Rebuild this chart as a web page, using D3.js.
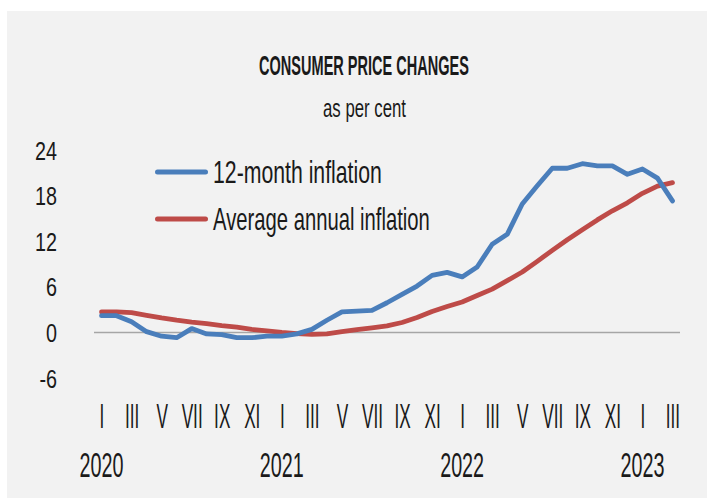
<!DOCTYPE html>
<html>
<head>
<meta charset="utf-8">
<script src="https://cdn.jsdelivr.net/npm/d3@7"></script>
<style>
  html, body { margin: 0; padding: 0; background: #ffffff; }
  svg { display: block; }
  text { font-family: "Liberation Sans", Arial, sans-serif; fill: #1a1a1a; }
</style>
</head>
<body>
<svg id="chart" width="707" height="498"></svg>
<script>
// ---- data ----
const title = "CONSUMER PRICE CHANGES";
const subtitle = "as per cent";
const romanMonths = ["I","II","III","IV","V","VI","VII","VIII","IX","X","XI","XII"];
const years = ["2020","2021","2022","2023"];
const seriesNames = ["12-month inflation", "Average annual inflation"];
const yTicks = [-6, 0, 6, 12, 18, 24];
// monthly, Jan 2020 .. Mar 2023
const inflation12m = [2.2,2.2,1.4,0.1,-0.5,-0.7,0.5,-0.2,-0.3,-0.7,-0.7,-0.5,
  -0.5,-0.2,0.4,1.6,2.7,2.8,2.9,3.9,5.0,6.1,7.5,7.9,
  7.3,8.6,11.6,12.9,16.9,19.3,21.6,21.6,22.2,21.9,21.9,20.8,
  21.5,20.3,17.3];
const inflationAvg = [2.7,2.7,2.6,2.25,1.9,1.6,1.35,1.15,0.9,0.7,0.4,0.2,
  0.0,-0.15,-0.25,-0.2,0.1,0.35,0.6,0.85,1.3,1.95,2.75,3.4,
  4.0,4.85,5.7,6.8,7.95,9.35,10.8,12.2,13.5,14.8,16.0,17.05,
  18.3,19.25,19.7];

const categories = [];
years.forEach(y => romanMonths.forEach((m, mi) => categories.push({year: y, month: m, mi})));
categories.length = inflation12m.length;

// ---- layout ----
const svg = d3.select("#chart");
const colors = ["#4a7ebb", "#be4b48"];

svg.append("rect").attr("x", 7).attr("y", 11).attr("width", 700).attr("height", 487).attr("fill", "#f2f2f2");

const x = d3.scalePoint().domain(d3.range(categories.length)).range([94, 680]).padding(0.5);
const y = d3.scaleLinear().domain([-6, 24]).range([378, 150]);

function measure(str, size, weight) {
  const t = svg.append("text").attr("font-size", size).attr("font-weight", weight || "normal").text(str);
  const w = t.node().getComputedTextLength();
  t.remove();
  return w;
}
// condensed text placed via transform so that its box really is narrow
function placeText(parent, str, px, py, size, anchor, k, weight) {
  return parent.append("text")
    .attr("transform", `translate(${px},${py}) scale(${k},1)`)
    .attr("text-anchor", anchor).attr("font-size", size)
    .attr("font-weight", weight || "normal").text(str);
}

// title & subtitle
placeText(svg, title, 364, 75, 28, "middle", 210 / measure(title, 28, "bold"), "bold").attr("fill", "#111");
placeText(svg, subtitle, 364.5, 117, 25, "middle", 83 / measure(subtitle, 25));

// zero line
svg.append("line").attr("x1", 94).attr("x2", 680).attr("y1", y(0)).attr("y2", y(0))
  .attr("stroke", "#a6a6a6").attr("stroke-width", 1.5);

// y axis
const kY = 22 / measure("24", 25.5);
const yAxis = d3.axisLeft(y).tickValues(yTicks).tickSize(0).tickPadding(37).tickFormat(d => String(d));
const gy = svg.append("g").attr("transform", "translate(94,0)").call(yAxis);
gy.select(".domain").remove();
gy.selectAll("text").attr("font-size", 25.5).attr("font-family", null).attr("fill", "#1a1a1a")
  .attr("x", -37 / kY).attr("dy", "0.36em").attr("transform", `scale(${kY},1)`);

// x axis: roman months (odd months)
const kR = 21 / measure("VII", 36);
const xAxis = d3.axisBottom(x)
  .tickValues(d3.range(categories.length).filter(i => categories[i].mi % 2 === 0))
  .tickSize(0).tickPadding(0)
  .tickFormat(i => categories[i].month);
const gx = svg.append("g").attr("transform", "translate(0,428)").call(xAxis);
gx.select(".domain").remove();
gx.selectAll("text").attr("font-size", 36).attr("font-family", null).attr("fill", "#1a1a1a")
  .attr("y", 0).attr("dy", 0).attr("transform", `scale(${kR},1)`);

// year labels under January
const kYr = 44 / measure("2020", 36);
const gYears = svg.append("g");
d3.range(categories.length).filter(i => categories[i].mi === 0).forEach(i => {
  placeText(gYears, categories[i].year, x(i), 477, 36, "middle", kYr);
});

// lines
const line = d3.line().x((d, i) => x(i)).y(d => y(d));
[inflationAvg, inflation12m].forEach((s, k) => {
  svg.append("path").datum(s).attr("d", line).attr("fill", "none")
    .attr("stroke", colors[1 - k]).attr("stroke-width", 4.8)
    .attr("stroke-linejoin", "round").attr("stroke-linecap", "round");
});

// legend
const legendY = [172, 219];
const legendW = [169, 217];
seriesNames.forEach((name, k) => {
  svg.append("line").attr("x1", 157.5).attr("x2", 205.5).attr("y1", legendY[k]).attr("y2", legendY[k])
    .attr("stroke", colors[k]).attr("stroke-width", 5).attr("stroke-linecap", "round");
  placeText(svg, name, 213, legendY[k] + 10.5, 30.5, "start", legendW[k] / measure(name, 30.5));
});
</script>
</body>
</html>
